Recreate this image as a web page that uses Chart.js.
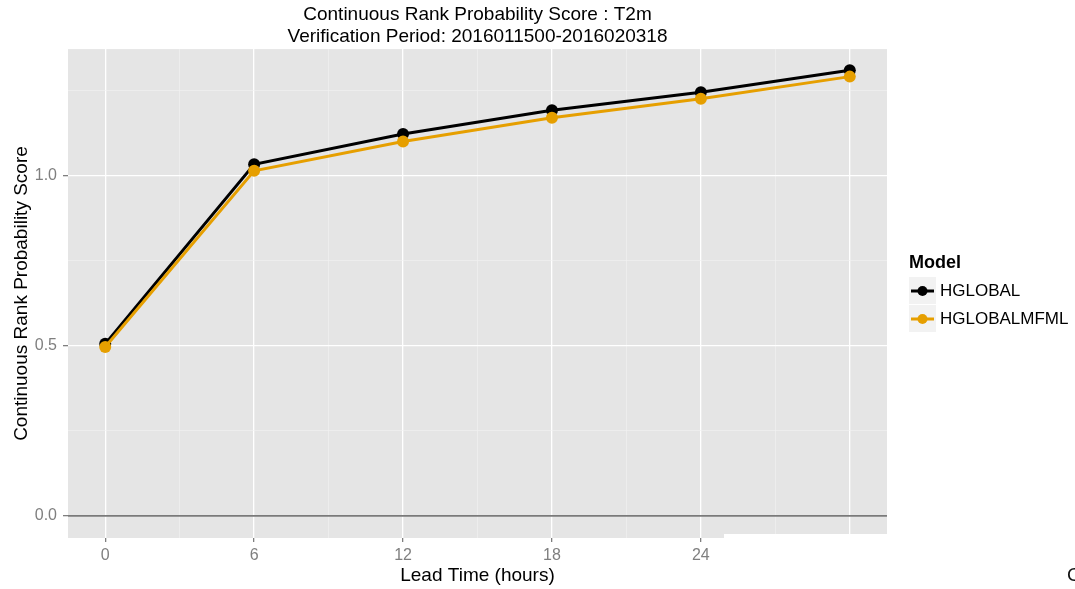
<!DOCTYPE html>
<html>
<head>
<meta charset="utf-8">
<script src="https://cdn.jsdelivr.net/npm/chart.js@4/dist/chart.umd.min.js"></script>
<style>
  html, body { margin: 0; padding: 0; background: #fff; }
  #wrap { width: 1075px; height: 589px; }
</style>
</head>
<body>
<div id="wrap"><canvas id="c" width="1075" height="589"></canvas></div>
<script>
// ---- data ----
const leadTimes = [0, 6, 12, 18, 24, 30];
const hglobal = [0.506, 1.034, 1.123, 1.193, 1.246, 1.311];
const hglobalMfml = [0.497, 1.015, 1.101, 1.171, 1.227, 1.292];
const seriesNames = ['HGLOBAL', 'HGLOBALMFML'];
const seriesColors = ['#000000', '#E69F00'];
const xTicks = [0, 3, 6, 9, 12, 15, 18, 21, 24, 27, 30];
const yTicks = [0, 0.25, 0.5, 0.75, 1.0, 1.25];
const titleLines = ['Continuous Rank Probability Score : T2m', 'Verification Period: 2016011500-2016020318'];
const xTitle = 'Lead Time (hours)';
const yTitle = 'Continuous Rank Probability Score';
const legendTitle = 'Model';

const FONT = "'Liberation Sans', Arial, Helvetica, sans-serif";

function pts(vals) { return leadTimes.map((x, i) => ({ x: x, y: vals[i] })); }
const isMajorX = v => Math.abs(v % 6) < 1e-9;
const isMajorY = v => Math.abs((v * 2) - Math.round(v * 2)) < 1e-9;

const panelPlugin = {
  id: 'panel',
  beforeDraw(chart) {
    const { ctx, chartArea: a } = chart;
    ctx.save();
    ctx.fillStyle = '#E5E5E5';
    ctx.fillRect(a.left, a.top, a.right - a.left, a.bottom - a.top);
    ctx.restore();
  },
  beforeDatasetsDraw(chart) {
    const { ctx, chartArea: a, scales } = chart;
    const y0 = scales.y.getPixelForValue(0);
    ctx.save();
    ctx.strokeStyle = '#7A7A7A';
    ctx.lineWidth = 1.6;
    ctx.beginPath();
    ctx.moveTo(a.left, y0);
    ctx.lineTo(a.right, y0);
    ctx.stroke();
    ctx.restore();
  },
  afterDraw(chart) {
    const { ctx } = chart;
    ctx.save();
    // white overlay strip at bottom right (present in the reference)
    ctx.fillStyle = '#FFFFFF';
    ctx.fillRect(724, 534, chart.width - 724, chart.height - 534);
    // clipped stray character at the right edge
    ctx.fillStyle = '#111';
    ctx.font = '19px ' + FONT;
    ctx.textBaseline = 'middle';
    ctx.textAlign = 'left';
    ctx.fillText('C', 1067, 576);

    // legend
    const lx = 909;
    ctx.fillStyle = '#000';
    ctx.font = 'bold 18px ' + FONT;
    ctx.fillText(legendTitle, lx, 263);
    const ds = chart.data.datasets;
    [0, 1].forEach((k, i) => {
      const d = ds.find(s => s.label === seriesNames[k]);
      const top = 277 + i * 28;
      ctx.fillStyle = '#F2F2F2';
      ctx.fillRect(lx, top, 27, 27);
      const cy = top + 14;
      ctx.strokeStyle = d.borderColor;
      ctx.lineWidth = 3;
      ctx.beginPath();
      ctx.moveTo(lx + 2, cy);
      ctx.lineTo(lx + 25, cy);
      ctx.stroke();
      ctx.fillStyle = d.pointBackgroundColor;
      ctx.beginPath();
      ctx.arc(lx + 13.5, cy, 5, 0, Math.PI * 2);
      ctx.fill();
      ctx.fillStyle = '#000';
      ctx.font = '17px ' + FONT;
      ctx.fillText(d.label, lx + 31, cy);
    });
    ctx.restore();
  }
};

new Chart(document.getElementById('c'), {
  type: 'line',
  data: {
    datasets: [
      {
        label: seriesNames[0], data: pts(hglobal),
        borderColor: seriesColors[0], backgroundColor: seriesColors[0],
        pointBackgroundColor: seriesColors[0], pointBorderColor: seriesColors[0],
        borderWidth: 3, pointRadius: 6, pointBorderWidth: 0, order: 1, tension: 0
      },
      {
        label: seriesNames[1], data: pts(hglobalMfml),
        borderColor: seriesColors[1], backgroundColor: seriesColors[1],
        pointBackgroundColor: seriesColors[1], pointBorderColor: seriesColors[1],
        borderWidth: 3, pointRadius: 6, pointBorderWidth: 0, order: 0, tension: 0
      }
    ]
  },
  options: {
    responsive: false,
    animation: false,
    events: [],
    layout: { padding: { left: 0, right: 188, top: 0, bottom: 0 } },
    plugins: {
      legend: { display: false },
      tooltip: { enabled: false },
      title: {
        display: true,
        fullSize: false,
        text: titleLines,
        color: '#000',
        font: { family: FONT, size: 19, weight: 'normal', lineHeight: 1.16 },
        padding: { top: 4, bottom: 1 }
      }
    },
    scales: {
      x: {
        type: 'linear',
        min: -1.5, max: 31.5,
        afterBuildTicks: s => { s.ticks = xTicks.map(v => ({ value: v })); },
        afterFit: s => { s.height = 51; },
        border: { display: false },
        grid: {
          color: c => isMajorX(c.tick.value) ? '#FFFFFF' : '#F2F2F2',
          lineWidth: c => isMajorX(c.tick.value) ? 1.3 : 0.6,
          tickColor: c => isMajorX(c.tick.value) ? '#7F7F7F' : 'rgba(0,0,0,0)',
          tickLength: 4,
          tickWidth: 1.3
        },
        ticks: {
          autoSkip: false, maxRotation: 0,
          color: '#7F7F7F',
          font: { family: FONT, size: 16 },
          padding: 4,
          callback: v => isMajorX(v) ? String(v) : ''
        },
        title: {
          display: true, text: xTitle, color: '#000',
          font: { family: FONT, size: 19 },
          padding: { top: 0, bottom: 1.6 }
        }
      },
      y: {
        type: 'linear',
        min: -0.065, max: 1.373,
        afterBuildTicks: s => { s.ticks = yTicks.map(v => ({ value: v })); },
        afterFit: s => { s.width = 68; },
        border: { display: false },
        grid: {
          color: c => isMajorY(c.tick.value) ? '#FFFFFF' : '#F2F2F2',
          lineWidth: c => isMajorY(c.tick.value) ? 1.3 : 0.6,
          tickColor: c => isMajorY(c.tick.value) ? '#7F7F7F' : 'rgba(0,0,0,0)',
          tickLength: 5,
          tickWidth: 1.3
        },
        ticks: {
          autoSkip: false,
          color: '#7F7F7F',
          font: { family: FONT, size: 16 },
          padding: 6,
          callback: v => isMajorY(v) ? v.toFixed(1) : ''
        },
        title: {
          display: true, text: yTitle, color: '#000',
          font: { family: FONT, size: 19 },
          padding: { top: 10.6, bottom: 0 }
        }
      }
    }
  },
  plugins: [panelPlugin]
});
</script>
</body>
</html>
